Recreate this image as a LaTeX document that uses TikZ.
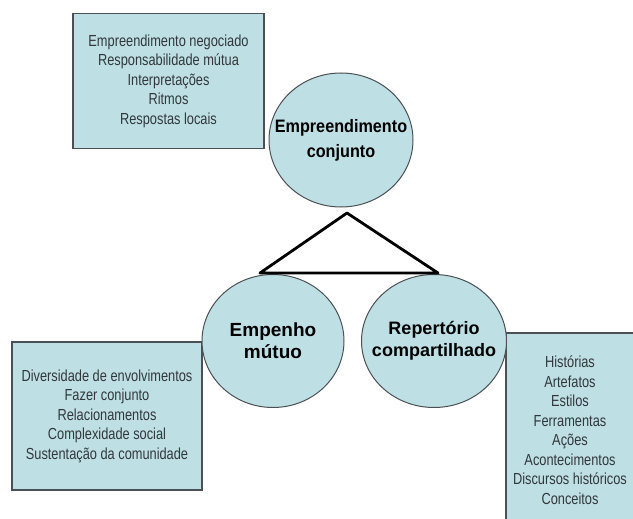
\documentclass[tikz,border=0pt]{standalone}
\usepackage{fontspec}
\setmainfont{Liberation Sans}
\newfontfamily\listfont[FakeStretch=0.8]{Liberation Sans}
\newfontfamily\headfont[FakeStretch=0.9]{Liberation Sans}
\usetikzlibrary{shapes.geometric}
\definecolor{paleblue}{RGB}{190,224,228}
\definecolor{listgray}{RGB}{50,55,60}
\definecolor{edgegray}{RGB}{75,80,85}
\begin{document}
\begin{tikzpicture}[x=1pt, y=-1pt,
	listbox/.style={rectangle, draw=edgegray, line width=1.2pt, fill=paleblue, align=center, text=listgray, font=\listfont\fontsize{16}{19.5}\selectfont},
	topic/.style={ellipse, draw=edgegray, line width=1pt, fill=paleblue, align=center, inner xsep=-20pt, inner ysep=0pt, font=\bfseries\fontsize{18}{22}\selectfont},
	tri/.style={line width=2.8pt, line join=round}]
	\clip (0,0) rectangle (633,519);
	\node (negbox) [listbox, minimum width=191pt, minimum height=135pt] at (168.5,81) {Empreendimento negociado\\Responsabilidade mútua\\Interpretações\\Ritmos\\Respostas locais};
	\node (envbox) [listbox, minimum width=190pt, minimum height=148pt] at (107,416) {Diversidade de envolvimentos\\Fazer conjunto\\Relacionamentos\\Complexidade social\\Sustentação da comunidade};
	\node (repbox) [listbox, minimum width=128pt, minimum height=194pt] at (570,430) {Histórias\\Artefatos\\Estilos\\Ferramentas\\Ações\\Acontecimentos\\Discursos históricos\\Conceitos};

	\node (empreend) [topic, minimum width=144pt, minimum height=134pt, font=\headfont\bfseries\fontsize{18}{25}\selectfont] at (341,140) {Empreendimento\\conjunto};
	\node (empenho) [topic, minimum width=142pt, minimum height=133pt, font=\bfseries\fontsize{19}{22}\selectfont] at (273,341) {Empenho\\mútuo};
	\node (repert) [topic, minimum width=145pt, minimum height=133pt] at (434,341) {Repertório\\compartilhado};

	\coordinate (apex) at (347,213);
	\coordinate (baseL) at (260,273);
	\coordinate (baseR) at (438,273);
	\draw [tri] (apex) -- (baseL) -- (baseR) -- cycle;
\end{tikzpicture}
\end{document}
